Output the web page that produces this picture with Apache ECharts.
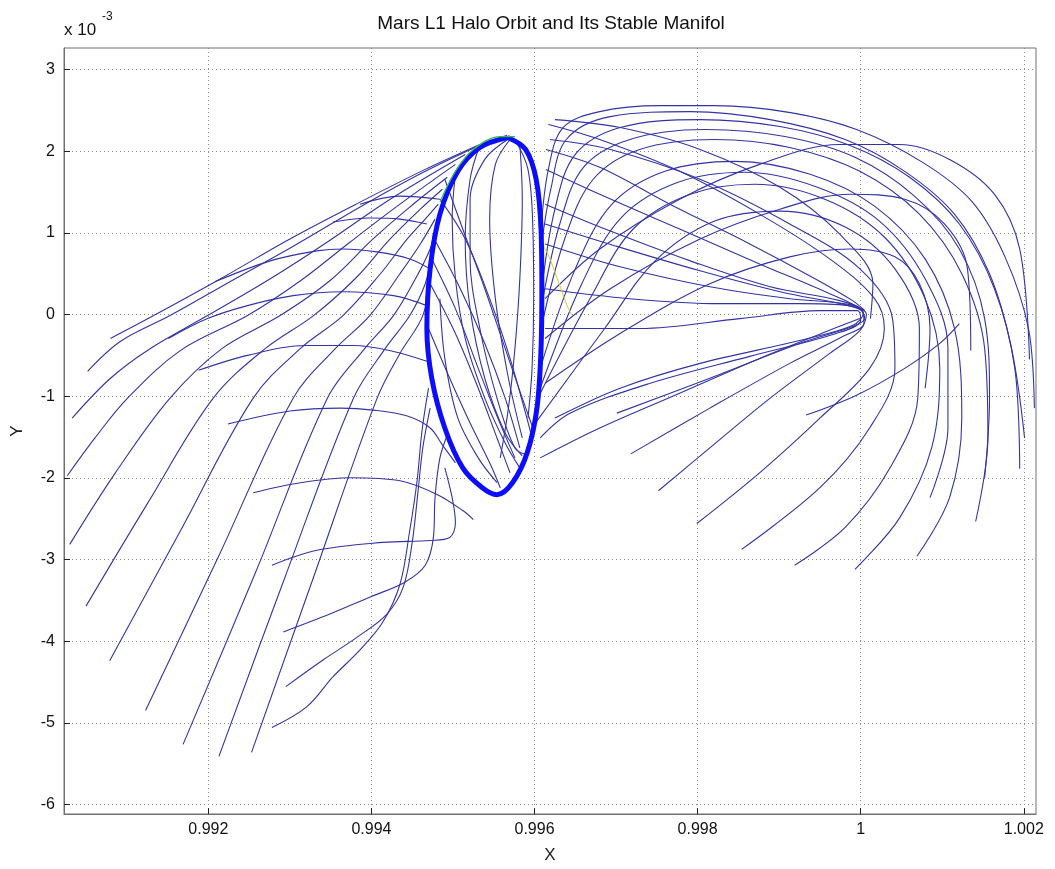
<!DOCTYPE html>
<html><head><meta charset="utf-8">
<script src="https://cdn.jsdelivr.net/npm/echarts@6/dist/echarts.min.js"></script>
<style>html,body{margin:0;padding:0;background:#fff}#c{width:1055px;height:869px}</style>
</head><body><div id="c"></div>
<script>
const xTicks = [0.992, 0.994, 0.996, 0.998, 1, 1.002];
const yTicks = [-6, -5, -4, -3, -2, -1, 0, 1, 2, 3];

const haloOrbit = [[0.99567,2.168],[0.99589,2.022],[0.99602,1.656],[0.99608,1.048],[0.99609,0.317],[0.99608,-0.414],[0.99603,-1.145],[0.99591,-1.693],[0.99573,-2.058],[0.99554,-2.204],[0.99536,-2.119],[0.99512,-1.876],[0.99490,-1.388],[0.99474,-0.779],[0.99468,-0.170],[0.99472,0.560],[0.99484,1.230],[0.99506,1.754],[0.99533,2.046],[0.99567,2.168]];

const leftRibs = [
 [[0.99080,-0.292],[0.99133,-0.012],[0.99215,0.439],[0.99300,0.926],[0.99386,1.377],[0.99466,1.778],[0.99533,2.083]],
 [[0.99052,-0.694],[0.99092,-0.329],[0.99153,-0.012],[0.99233,0.439],[0.99309,0.865],[0.99392,1.352],[0.99466,1.754],[0.99527,2.046]],
 [[0.99033,-1.267],[0.99080,-0.779],[0.99129,-0.414],[0.99199,-0.012],[0.99276,0.439],[0.99346,0.889],[0.99423,1.413],[0.99515,1.961]],
 [[0.99027,-1.973],[0.99061,-1.510],[0.99101,-1.023],[0.99166,-0.438],[0.99248,-0.012],[0.99313,0.414],[0.99374,0.889],[0.99435,1.352],[0.99503,1.839]],
 [[0.99030,-2.813],[0.99086,-1.937],[0.99153,-1.023],[0.99217,-0.414],[0.99288,-0.012],[0.99349,0.414],[0.99402,0.926],[0.99447,1.316],[0.99493,1.681]],
 [[0.99050,-3.569],[0.99126,-2.302],[0.99206,-1.023],[0.99270,-0.414],[0.99329,-0.012],[0.99380,0.439],[0.99423,0.926],[0.99460,1.291],[0.99487,1.535]],
 [[0.99079,-4.239],[0.99166,-2.643],[0.99255,-1.023],[0.99313,-0.414],[0.99365,-0.012],[0.99411,0.500],[0.99444,0.926],[0.99466,1.169],[0.99482,1.352]],
 [[0.99123,-4.848],[0.99212,-2.972],[0.99304,-1.023],[0.99356,-0.414],[0.99398,-0.012],[0.99435,0.500],[0.99460,0.865],[0.99478,1.169]],
 [[0.99169,-5.262],[0.99258,-3.155],[0.99346,-1.023],[0.99392,-0.414],[0.99427,-0.012],[0.99454,0.439],[0.99472,0.804],[0.99476,0.987]],
 [[0.99213,-5.408],[0.99294,-3.215],[0.99378,-1.023],[0.99417,-0.414],[0.99447,-0.012],[0.99466,0.378],[0.99474,0.743]],
 [[0.99253,-5.359],[0.99329,-3.215],[0.99407,-1.023],[0.99435,-0.475],[0.99463,-0.012],[0.99472,0.500]],
 [[0.99278,-5.055],[0.99321,-4.799],[0.99353,-4.433],[0.99386,-4.105],[0.99414,-3.764],[0.99435,-3.301],[0.99447,-2.643],[0.99456,-2.034],[0.99462,-1.425],[0.99470,-0.901]],
 [[0.99295,-4.555],[0.99341,-4.226],[0.99383,-3.946],[0.99419,-3.666],[0.99439,-3.337],[0.99450,-2.789],[0.99457,-2.180],[0.99463,-1.632],[0.99472,-1.145]],
 [[0.99292,-3.885],[0.99349,-3.666],[0.99398,-3.459],[0.99441,-3.276],[0.99466,-3.069],[0.99476,-2.728],[0.99478,-2.241],[0.99484,-1.754],[0.99494,-1.449]]
];

const leftCross = [
 [[0.99386,1.352],[0.99435,1.450],[0.99484,1.413]],
 [[0.99353,1.133],[0.99398,1.182],[0.99435,1.169],[0.99468,1.109]],
 [[0.99208,0.402],[0.99276,0.658],[0.99333,0.780],[0.99365,0.804],[0.99407,0.768],[0.99447,0.682],[0.99472,0.560]],
 [[0.99151,-0.292],[0.99199,-0.049],[0.99248,0.110],[0.99304,0.232],[0.99365,0.280],[0.99427,0.232],[0.99468,0.110]],
 [[0.99188,-0.682],[0.99248,-0.499],[0.99321,-0.378],[0.99378,-0.378],[0.99427,-0.451],[0.99468,-0.572]],
 [[0.99224,-1.340],[0.99300,-1.181],[0.99362,-1.145],[0.99402,-1.169],[0.99444,-1.242],[0.99472,-1.388],[0.99487,-1.595],[0.99503,-1.815]],
 [[0.99255,-2.180],[0.99313,-2.058],[0.99374,-1.997],[0.99435,-2.034],[0.99481,-2.204],[0.99512,-2.399],[0.99525,-2.509]],
 [[0.99278,-3.069],[0.99333,-2.886],[0.99414,-2.789],[0.99472,-2.765],[0.99496,-2.728],[0.99503,-2.545],[0.99499,-2.241],[0.99490,-1.876]]
];

const innerArcs = [
 [[0.99484,1.413],[0.99515,0.926],[0.99545,0.195],[0.99570,-0.536],[0.99589,-1.206],[0.99597,-1.510]],
 [[0.99477,0.926],[0.99509,0.317],[0.99539,-0.353],[0.99564,-1.023],[0.99582,-1.632]],
 [[0.99472,0.378],[0.99503,-0.231],[0.99531,-0.901],[0.99554,-1.510],[0.99570,-1.937]],
 [[0.99470,-0.170],[0.99496,-0.779],[0.99521,-1.328],[0.99545,-1.815],[0.99558,-2.119]],
 [[0.99567,2.144],[0.99539,1.900],[0.99521,1.413],[0.99521,0.682],[0.99533,-0.170],[0.99554,-1.023],[0.99576,-1.632],[0.99591,-1.717]],
 [[0.99570,2.144],[0.99552,1.839],[0.99545,1.169],[0.99552,0.195],[0.99568,-0.779],[0.99585,-1.510]],
 [[0.99576,2.144],[0.99592,1.778],[0.99598,1.048],[0.99599,0.195],[0.99597,-0.658],[0.99592,-1.267]],
 [[0.99484,0.195],[0.99490,-0.536],[0.99506,-1.267],[0.99531,-1.754],[0.99554,-2.058]],
 [[0.99503,1.718],[0.99499,1.169],[0.99503,0.439],[0.99515,-0.292],[0.99539,-1.023],[0.99564,-1.571],[0.99582,-1.876]],
 [[0.99490,1.657],[0.99512,1.048],[0.99539,0.317],[0.99564,-0.414],[0.99585,-1.023],[0.99598,-1.388]],
 [[0.99474,0.682],[0.99503,0.073],[0.99531,-0.658],[0.99555,-1.267],[0.99576,-1.754]],
 [[0.99531,2.022],[0.99521,1.657],[0.99515,0.926],[0.99521,0.073],[0.99539,-0.779],[0.99564,-1.449],[0.99585,-1.730]],
 [[0.99582,2.083],[0.99585,1.413],[0.99582,0.439],[0.99576,-0.414],[0.99568,-1.145],[0.99558,-1.754]]
];

const rightArches = [
 [[0.99608,1.048],[0.99617,1.778],[0.99635,2.290],[0.99680,2.485],[0.99754,2.558],[0.99821,2.558],[0.99914,2.473],[0.99995,2.266],[1.00076,1.864],[1.00136,1.389],[1.00177,0.707],[1.00206,-0.183],[1.00213,-1.145]],
 [[0.99608,0.804],[0.99620,1.535],[0.99639,2.144],[0.99693,2.424],[0.99791,2.485],[0.99889,2.387],[0.99981,2.144],[1.00054,1.754],[1.00115,1.230],[1.00158,0.500],[1.00185,-0.414],[1.00201,-1.510]],
 [[0.99609,0.317],[0.99625,1.291],[0.99650,1.961],[0.99705,2.290],[0.99803,2.387],[0.99901,2.302],[0.99987,2.071],[1.00060,1.681],[1.00121,1.109],[1.00164,0.317],[1.00189,-0.658],[1.00195,-1.888]],
 [[0.99608,0.073],[0.99631,1.109],[0.99660,1.803],[0.99717,2.144],[0.99809,2.266],[0.99907,2.180],[0.99993,1.925],[1.00066,1.450],[1.00121,0.804],[1.00152,-0.049],[1.00158,-1.023],[1.00152,-1.997]],
 [[0.99608,-0.170],[0.99637,0.926],[0.99672,1.657],[0.99729,2.022],[0.99821,2.144],[0.99913,2.046],[0.99999,1.754],[1.00072,1.230],[1.00124,0.500],[1.00152,-0.414],[1.00156,-1.510],[1.00141,-2.533]],
 [[0.99607,-0.658],[0.99650,0.560],[0.99695,1.352],[0.99760,1.754],[0.99846,1.876],[0.99938,1.718],[1.00017,1.328],[1.00079,0.682],[1.00115,-0.170],[1.00124,-1.267],[1.00109,-2.241],[1.00069,-2.959]],
 [[0.99607,-0.901],[0.99658,0.378],[0.99707,1.194],[0.99776,1.620],[0.99858,1.742],[0.99947,1.559],[1.00023,1.145],[1.00079,0.439],[1.00107,-0.414],[1.00107,-1.388],[1.00085,-2.241]],
 [[0.99604,-1.023],[0.99668,0.195],[0.99721,1.048],[0.99791,1.474],[0.99870,1.596],[0.99956,1.413],[1.00029,0.950],[1.00079,0.195],[1.00097,-0.658],[1.00087,-1.632],[1.00048,-2.485],[0.99993,-3.118]],
 [[0.99601,-1.328],[0.99686,-0.170],[0.99748,0.658],[0.99821,1.145],[0.99901,1.267],[0.99981,1.072],[1.00042,0.560],[1.00072,-0.170],[1.00070,-1.023],[1.00036,-1.876],[0.99981,-2.606],[0.99919,-3.069]]
];

const tongueLines = [
 [[0.99614,1.778],[0.99680,1.474],[0.99778,1.048],[0.99876,0.621],[0.99962,0.256],[0.99999,0.073],[1.00005,-0.049],[0.99990,-0.146],[0.99925,-0.353],[0.99815,-0.779],[0.99701,-1.206]],
 [[0.99613,1.352],[0.99693,1.023],[0.99791,0.658],[0.99889,0.341],[0.99974,0.171],[1.00003,0.037],[1.00004,-0.110],[0.99978,-0.268],[0.99913,-0.597],[0.99815,-1.145],[0.99718,-1.705]],
 [[0.99613,0.865],[0.99705,0.585],[0.99815,0.341],[0.99913,0.195],[0.99987,0.122],[1.00007,0.000],[0.99999,-0.195],[0.99962,-0.475],[0.99889,-1.023],[0.99815,-1.632],[0.99752,-2.156]],
 [[0.99617,2.327],[0.99680,2.144],[0.99778,1.754],[0.99876,1.230],[0.99962,0.682],[1.00017,0.195],[1.00029,-0.170],[1.00011,-0.658],[0.99950,-1.267],[0.99876,-1.937],[0.99799,-2.558]],
 [[0.99619,2.144],[0.99693,2.022],[0.99803,1.657],[0.99913,1.109],[0.99999,0.560],[1.00039,-0.049],[1.00042,-0.658],[1.00011,-1.388],[0.99950,-2.119],[0.99854,-2.874]],
 [[0.99613,0.317],[0.99717,0.195],[0.99827,0.134],[0.99925,0.134],[0.99985,0.110],[1.00003,0.012],[0.99990,-0.134],[0.99925,-0.317],[0.99803,-0.597],[0.99705,-0.901],[0.99625,-1.267]],
 [[0.99613,-0.170],[0.99729,-0.170],[0.99852,-0.049],[0.99950,0.049],[0.99996,0.049],[1.00000,-0.073],[0.99970,-0.231],[0.99864,-0.511],[0.99742,-0.840],[0.99644,-1.206],[0.99607,-1.510]],
 [[0.99625,2.387],[0.99705,2.290],[0.99803,2.022],[0.99901,1.559],[0.99974,0.987],[1.00015,0.378],[1.00012,-0.049]],
 [[0.99614,2.022],[0.99680,1.803],[0.99766,1.352],[0.99864,0.865],[0.99944,0.439],[0.99990,0.171],[1.00005,0.049]],
 [[0.99613,1.109],[0.99699,0.841],[0.99803,0.536],[0.99901,0.280],[0.99975,0.134],[1.00004,0.061]],
 [[0.99607,-1.754],[0.99680,-1.388],[0.99778,-0.962],[0.99876,-0.536],[0.99958,-0.207],[0.99999,-0.049]]
];

const crossRight = [
 [[0.99613,0.195],[0.99680,0.804],[0.99778,1.413],[0.99876,1.839],[0.99974,2.083],[1.00048,2.083],[1.00109,1.900],[1.00164,1.474],[1.00195,0.804],[1.00207,-0.548]],
 [[0.99613,-0.292],[0.99693,0.317],[0.99803,0.926],[0.99901,1.291],[0.99987,1.474],[1.00054,1.413],[1.00103,1.109],[1.00131,0.560],[1.00135,-0.438]],
 [[0.99613,-0.840],[0.99705,-0.231],[0.99815,0.378],[0.99913,0.707],[0.99987,0.804],[1.00042,0.707],[1.00072,0.378],[1.00085,-0.170],[1.00079,-0.901]],
 [[0.99933,-1.230],[0.99995,-0.986],[1.00054,-0.658],[1.00097,-0.353],[1.00121,-0.110]]
];

const greenTrace = [[0.99484,1.377],[0.99503,1.754],[0.99525,2.022],[0.99558,2.180],[0.99576,2.180]];
const yellowTrace = [[0.99603,1.778],[0.99607,0.962],[0.99619,0.682],[0.99640,0.110],[0.99646,-0.012]];

const MAN = '#3333a6';
function mk(pts, color, width, z) {
  return {type:'line', data:pts, showSymbol:false, symbol:'none', smooth:0.35,
    lineStyle:{color:color, width:width}, z:z, silent:true, animation:false, clip:true};
}
const series = [];
[leftRibs, leftCross, innerArcs, rightArches, tongueLines, crossRight].forEach(g => g.forEach(p => series.push(mk(p, MAN, 1.1, 2))));
series.push(mk(yellowTrace, '#d8d020', 1, 3));
series.push(mk(haloOrbit, '#0c0cff', 5, 4));
series.push(mk(greenTrace, '#30c040', 1.2, 5));

const FONT = 'Liberation Sans';
const chart = echarts.init(document.getElementById('c'), null, {renderer:'canvas'});
chart.setOption({
  backgroundColor:'#ffffff',
  animation:false,
  grid:{left:64, right:19, top:48, bottom:51, show:true, borderColor:'#707070', borderWidth:1, backgroundColor:'#fff'},
  xAxis:{type:'value', min:0.99023, max:1.00215,
    name:'X', nameLocation:'middle', nameGap:33, nameTextStyle:{fontFamily:FONT, fontSize:17, color:'#222'},
    axisLine:{show:true, onZero:false, lineStyle:{color:'#707070', width:1}},
    axisTick:{show:true, inside:true, length:6, customValues:xTicks, lineStyle:{color:'#222'}},
    axisLabel:{customValues:xTicks, formatter:v => String(+v.toFixed(3)), fontFamily:FONT, fontSize:16, color:'#111', margin:8},
    splitLine:{show:true, lineStyle:{type:[1,3], color:'#8a8a8a', width:1}}},
  yAxis:{type:'value', min:-6.114, max:3.264,
    name:'Y', nameLocation:'middle', nameGap:38, nameTextStyle:{fontFamily:FONT, fontSize:17, color:'#222'},
    axisLine:{show:true, onZero:false, lineStyle:{color:'#707070', width:1}},
    axisTick:{show:true, inside:true, length:6, customValues:yTicks, lineStyle:{color:'#222'}},
    axisLabel:{customValues:yTicks, fontFamily:FONT, fontSize:16, color:'#111', margin:9},
    splitLine:{show:true, lineStyle:{type:[1,3], color:'#8a8a8a', width:1}}},
  graphic:[
    {type:'text', x:551, y:14, style:{text:'Mars L1 Halo Orbit and Its Stable Manifol', font:'19px "Liberation Sans"', fill:'#111', textAlign:'center'}},
    {type:'text', x:64, y:22, style:{text:'x 10', font:'17px "Liberation Sans"', fill:'#111'}},
    {type:'text', x:102, y:11, style:{text:'-3', font:'12px "Liberation Sans"', fill:'#111'}}
  ],
  series:series
});
</script></body></html>
